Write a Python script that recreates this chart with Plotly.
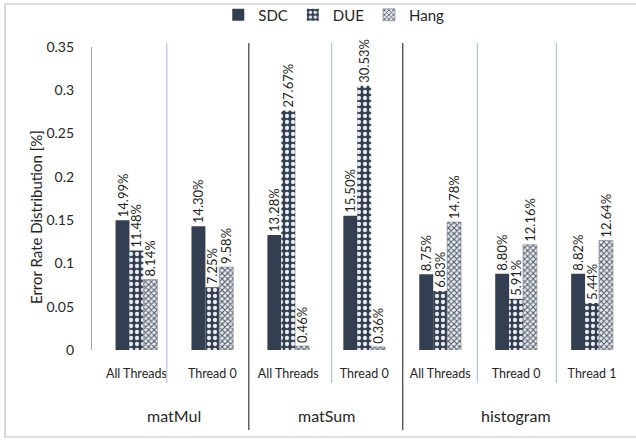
import plotly.graph_objects as go

categories = ["All Threads", "Thread 0", "All Threads", "Thread 0", "All Threads", "Thread 0", "Thread 1"]
groups = ["matMul", "matSum", "histogram"]
group_sizes = [2, 2, 3]
sdc = [14.99, 14.30, 13.28, 15.50, 8.75, 8.80, 8.82]
due = [11.48, 7.25, 27.67, 30.53, 6.83, 5.91, 5.44]
hang = [8.14, 9.58, 0.46, 0.36, 14.78, 12.16, 12.64]
y_ticks = [0, 0.05, 0.1, 0.15, 0.2, 0.25, 0.3, 0.35]

DARK = "#333F50"
FONT = "Lato"
TXT = "#262626"

xs = list(range(len(categories)))

def labels(vals):
    return [f"{v:.2f}%" for v in vals]

fig = go.Figure()
fig.add_trace(go.Bar(
    x=xs, y=[v / 100 for v in sdc], name="SDC",
    marker=dict(color=DARK, line=dict(width=0)),
    text=labels(sdc),
))
fig.add_trace(go.Bar(
    x=xs, y=[v / 100 for v in due], name="DUE",
    marker=dict(color=DARK, line=dict(width=0),
                pattern=dict(shape=".", bgcolor=DARK, fgcolor="#E8EAEE", size=6, solidity=0.4, fillmode="replace")),
    text=labels(due),
))
fig.add_trace(go.Bar(
    x=xs, y=[v / 100 for v in hang], name="Hang",
    marker=dict(color="white", line=dict(width=0.6, color="#7A828D"),
                pattern=dict(shape="x", bgcolor="#E9EBEE", fgcolor="#4F5967", size=4, solidity=0.45, fillmode="replace")),
    text=labels(hang),
))
fig.update_traces(textposition="outside", textangle=-90, cliponaxis=False,
                  textfont=dict(family=FONT, size=13, color="#1F1F1F"))

# plot geometry helpers (pixels -> paper)
L, R, T, B = 92, 630.5, 47, 350
W, H = R - L, B - T
def px(xp):
    return (xp - L) / W
def py(yp):
    return (B - yp) / H

shapes = []
# outer border
shapes.append(dict(type="rect", xref="paper", yref="paper", x0=px(5), x1=px(640), y0=py(437), y1=py(4),
                   line=dict(color="#BFBFBF", width=1.2), fillcolor="rgba(0,0,0,0)", layer="below"))
# separators: light within groups, dark between groups
light_sep = [0.40, 2.57, 4.49, 5.53]
dark_sep = [1.48, 3.507]
for xv in light_sep:
    shapes.append(dict(type="line", xref="x", yref="paper", x0=xv, x1=xv, y0=py(383), y1=py(43),
                       line=dict(color="#B4C3DA", width=1.2)))
for xv in dark_sep:
    shapes.append(dict(type="line", xref="x", yref="paper", x0=xv, x1=xv, y0=py(430), y1=py(43),
                       line=dict(color="#3A3A3A", width=1.2)))

annotations = []
start = 0
for g, n in zip(groups, group_sizes):
    center = start + (n - 1) / 2
    annotations.append(dict(x=center, xref="x", y=py(415), yref="paper", text=g, showarrow=False,
                            font=dict(family=FONT, size=16, color=TXT), yanchor="middle"))
    start += n
annotations.append(dict(x=px(25), y=py(217), xref="paper", yref="paper", text="Error Rate Distribution [%]",
                        textangle=-90, showarrow=False, font=dict(family=FONT, size=15, color=TXT)))

fig.update_layout(
    width=636, height=440,
    margin=dict(l=L, r=636 - R, t=T, b=440 - B, pad=0, autoexpand=False),
    paper_bgcolor="white", plot_bgcolor="white",
    barmode="group", bargap=0.45, bargroupgap=0,
    uniformtext=dict(minsize=13, mode="show"),
    font=dict(family=FONT, color=TXT),
    showlegend=True,
    legend=dict(orientation="h", x=px(334), xanchor="center", y=py(15), yanchor="middle",
                font=dict(family=FONT, size=15, color=TXT), itemwidth=30, tracegroupgap=0,
                bgcolor="rgba(0,0,0,0)"),
    shapes=shapes, annotations=annotations,
    xaxis=dict(range=[-0.585, 6.5], tickvals=xs, ticktext=categories, showgrid=False, zeroline=False,
               showline=False, ticks="", tickfont=dict(family=FONT, size=12.5, color=TXT),
               ticklabelstandoff=14),
    yaxis=dict(range=[0, 0.35], tickvals=y_ticks, ticktext=[f"{v:g}" for v in y_ticks], showgrid=False,
               zeroline=False, showline=True, linecolor="#A6A6A6", linewidth=1.2, ticks="",
               tickfont=dict(family=FONT, size=14, color=TXT), ticklabelstandoff=14),
)

fig.write_html("out.html", config={"displayModeBar": False},
               post_script="document.body.style.margin='0';document.body.style.overflow='hidden';")
